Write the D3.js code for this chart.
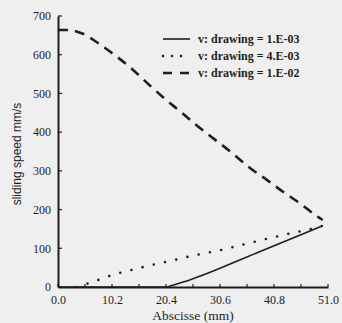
<!DOCTYPE html>
<html><head><meta charset="utf-8">
<script src="https://cdn.jsdelivr.net/npm/d3@7"></script>
<style>
html,body{margin:0;padding:0;background:#efefef;}
svg{display:block;}
</style></head>
<body>
<script>
// ---- data ----
const seriesNames = ["v: drawing = 1.E-03", "v: drawing = 4.E-03", "v: drawing = 1.E-02"];
const solidX = [0, 20.6, 21.5, 25, 37.5, 50];
const solidY = [0, 0, 4, 19, 88, 158];
const dottedX = [3.5, 6.5, 8.6, 10.8, 13, 15, 17.1, 19.4, 21.5, 23.6, 25.8, 28.1, 30.3, 32.5, 34.8, 36.9, 39, 41.3, 43.4, 45.5, 47.8, 50];
const dottedY = [0, 13, 23, 33, 41, 48, 55, 62, 68, 75, 82, 88, 94, 101, 109, 116, 123, 130, 137, 143, 150, 158];
const dashedX = [0, 1.7, 4.7, 8.1, 11.2, 14.4, 17.4, 20.2, 23.4, 26.5, 29.7, 32.9, 35.9, 39.5, 42.5, 45.7, 49.1, 50];
const dashedY = [664, 664, 654, 625, 594, 558, 520, 486, 450, 414, 380, 346, 311, 276, 246, 216, 181, 173];
const xTicks = [0.0, 10.2, 20.4, 30.6, 40.8, 51.0];
const xMinorTicks = [5.1, 15.3, 25.5, 35.7, 45.9];
const yTicks = [0, 100, 200, 300, 400, 500, 600, 700];
const xLabel = "Abscisse (mm)";
const yLabel = "sliding speed mm/s";

// ---- chart ----
const W = 342, H = 323;
const svg = d3.select("body").append("svg").attr("width", W).attr("height", H);
const x = d3.scaleLinear().domain([0, 51]).range([58, 328]);
const y = d3.scaleLinear().domain([0, 700]).range([287, 16]);
const ink = "#1e1e1e";
const serif = "'Liberation Serif','DejaVu Serif',serif";

// axes
const xAxis = d3.axisBottom(x).tickValues(xTicks).tickSize(0).tickPadding(0).tickFormat(d3.format(".1f"));
const gx = svg.append("g").attr("transform", `translate(0,${y(0)})`).call(xAxis);
gx.select(".domain").attr("stroke", ink).attr("stroke-width", 2);
gx.selectAll("text").attr("font-family", serif).attr("font-size", 12).attr("fill", ink)
  .attr("dy", null).attr("y", 17);
svg.append("g").selectAll("line").data(xTicks.concat(xMinorTicks)).join("line")
  .attr("x1", d => x(d)).attr("x2", d => x(d)).attr("y1", y(0)).attr("y2", y(0) - 3)
  .attr("stroke", ink).attr("stroke-width", 1.2);

const yAxis = d3.axisLeft(y).tickValues(yTicks).tickSize(0).tickPadding(7);
const gy = svg.append("g").attr("transform", `translate(${x(0)},0)`).call(yAxis);
gy.select(".domain").attr("stroke", ink).attr("stroke-width", 2);
gy.selectAll("text").attr("font-family", serif).attr("font-size", 12).attr("fill", ink);
svg.append("g").selectAll("line").data(yTicks).join("line")
  .attr("x1", x(0)).attr("x2", x(0) + 4).attr("y1", d => y(d)).attr("y2", d => y(d))
  .attr("stroke", ink).attr("stroke-width", 1.2);

// labels
svg.append("text").attr("x", 193).attr("y", 320).attr("text-anchor", "middle")
  .attr("font-family", serif).attr("font-size", 13.5).attr("fill", ink).text(xLabel);
svg.append("text").attr("transform", "translate(21,154) rotate(-90)").attr("text-anchor", "middle")
  .attr("font-family", "'Liberation Sans','DejaVu Sans',sans-serif").attr("font-size", 12).attr("fill", ink).text(yLabel);

// lines
const line = d3.line().x(d => x(d[0])).y(d => y(d[1])).curve(d3.curveMonotoneX);
const styles = [
  {dash: null, width: 1.6, cap: "butt"},
  {dash: "0,11.5", width: 2.6, cap: "round"},
  {dash: "10,7", width: 2.6, cap: "butt"}
];
const series = [
  d3.zip(solidX, solidY),
  d3.zip(dottedX, dottedY),
  d3.zip(dashedX, dashedY)
];
series.forEach((s, i) => {
  svg.append("path").datum(s).attr("d", line).attr("fill", "none")
    .attr("stroke", ink).attr("stroke-width", styles[i].width)
    .attr("stroke-linecap", styles[i].cap)
    .attr("stroke-dasharray", styles[i].dash);
});

// legend
const lg = svg.append("g");
const rowsY = [39, 56, 73];
seriesNames.forEach((n, i) => {
  lg.append("line").attr("x1", 163).attr("x2", 190).attr("y1", rowsY[i]).attr("y2", rowsY[i])
    .attr("stroke", ink).attr("stroke-width", i === 0 ? 1.6 : 2.6)
    .attr("stroke-linecap", styles[i].cap)
    .attr("stroke-dasharray", i === 1 ? "0,9" : (i === 2 ? "9,8" : null));
  lg.append("text").attr("x", 198).attr("y", rowsY[i] + 4).attr("font-family", serif)
    .attr("font-size", 12).attr("font-weight", "bold").attr("fill", ink).text(n);
});
</script>
</body></html>
